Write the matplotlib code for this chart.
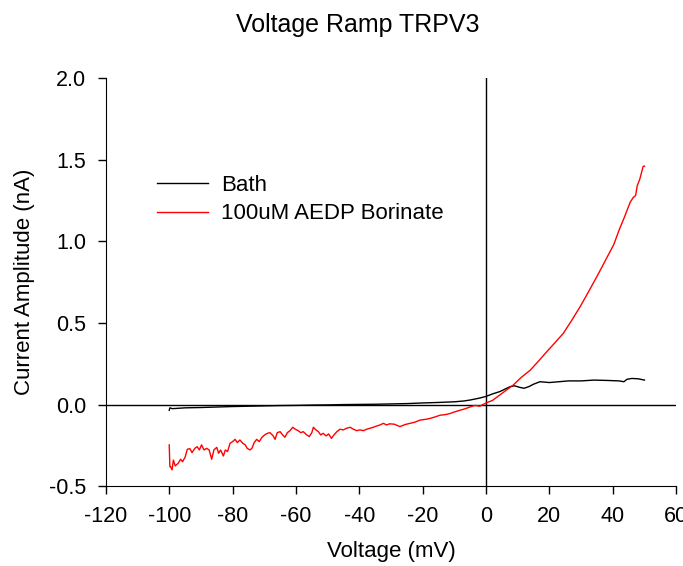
import numpy as np
import matplotlib
matplotlib.use('Agg')
import matplotlib.pyplot as plt

plt.rcParams['font.family'] = ['Liberation Sans', 'DejaVu Sans']
plt.rcParams['axes.unicode_minus'] = False

# Bath trace (mV, nA)
bath_v = [-100.0, -99.8, -99, -95, -90, -85, -80, -75, -70, -65, -60, -55, -50,
          -45, -40, -35, -30, -25, -20, -15, -10, -7, -5, -2, 0, 2, 4.4, 6,
          7.6, 9, 10.7, 12, 13.5, 15, 17, 20, 23, 26, 30, 34, 38, 42, 43.5,
          44.5, 46, 48, 50]
bath_i = [-0.035, -0.02, -0.025, -0.02, -0.018, -0.015, -0.012, -0.01, -0.008,
          -0.006, -0.005, -0.003, -0.002, 0.0, 0.001, 0.002, 0.004, 0.006,
          0.01, 0.013, 0.017, 0.022, 0.028, 0.04, 0.05, 0.065, 0.08, 0.095,
          0.11, 0.115, 0.105, 0.10, 0.11, 0.125, 0.14, 0.135, 0.14, 0.145,
          0.145, 0.15, 0.148, 0.145, 0.14, 0.155, 0.16, 0.158, 0.15]

# 100uM AEDP Borinate trace (mV, nA)
drug_v = [-100.0, -99.8, -99.6, -99.1, -98.7, -98.1, -97.2, -96.4, -95.8, -95.0,
          -94.3, -93.5, -92.8, -91.9, -91.2, -90.5, -89.8, -89.0, -88.2, -87.4,
          -86.6, -85.9, -85.0, -84.4, -83.8, -82.9, -82.3, -81.6, -80.8, -80.0,
          -79.2, -78.5, -77.7, -76.8, -76.0, -75.4, -74.5, -73.9, -73.2, -72.4,
          -71.6, -70.7, -69.9, -69.0, -68.2, -67.2, -66.6, -65.9, -65.0, -64.2,
          -63.5, -62.7, -61.9, -61.0, -60.2, -59.3, -58.5, -57.7, -56.6, -55.8,
          -55.0, -54.5, -53.7, -52.9, -52.2, -51.4, -50.5, -49.7, -48.8, -48.0,
          -47.1, -46.1, -45.1, -44.0, -42.9, -41.9, -40.8, -39.8, -38.7, -37.7,
          -36.6, -35.6, -34.5, -33.5, -32.4, -31.4, -30.5, -29, -27.2, -25.5,
          -24, -22.5, -20.8, -19, -17.7, -16, -14.5, -13, -11.4, -10, -8.2,
          -6.5, -5.1, -3.5, -2, 0, 2, 4.4, 6.5, 8.6, 11, 13.9, 16.5, 19.2,
          21.8, 24.4, 27, 29.7, 32.3, 35, 37.6, 40.3, 42, 43.5, 45.5, 46.5,
          47.2, 47.7, 48.5, 49.6, 50]
drug_i = [-0.247, -0.38, -0.38, -0.40, -0.34, -0.376, -0.36, -0.335, -0.35, -0.323,
          -0.274, -0.27, -0.294, -0.268, -0.258, -0.278, -0.247, -0.278, -0.268, -0.278,
          -0.335, -0.278, -0.262, -0.298, -0.278, -0.315, -0.278, -0.288, -0.237, -0.227,
          -0.213, -0.233, -0.217, -0.237, -0.247, -0.268, -0.278, -0.268, -0.233, -0.213,
          -0.227, -0.20, -0.186, -0.176, -0.172, -0.192, -0.213, -0.172, -0.166, -0.186,
          -0.20, -0.172, -0.16, -0.139, -0.151, -0.16, -0.172, -0.166, -0.186, -0.196,
          -0.172, -0.139, -0.155, -0.166, -0.186, -0.176, -0.192, -0.18, -0.207, -0.186,
          -0.166, -0.151, -0.155, -0.145, -0.139, -0.151, -0.16, -0.155, -0.16, -0.151,
          -0.145, -0.139, -0.131, -0.125, -0.115, -0.125, -0.118, -0.12, -0.135, -0.122,
          -0.115, -0.108, -0.095, -0.09, -0.085, -0.075, -0.065, -0.062, -0.055, -0.045, -0.035,
          -0.025, -0.015, -0.005, -0.01, 0.01, 0.025, 0.06, 0.09, 0.12, 0.165, 0.21, 0.265, 0.325,
          0.38, 0.437, 0.515, 0.60, 0.69, 0.785, 0.88, 0.98, 1.07, 1.14, 1.24, 1.27,
          1.28, 1.34, 1.38, 1.46, 1.46]

x_ticks = [-120, -100, -80, -60, -40, -20, 0, 20, 40, 60]
y_ticks = [-0.5, 0.0, 0.5, 1.0, 1.5, 2.0]

fig = plt.figure(figsize=(6.83, 5.66), dpi=100)
ax = fig.add_axes([0.155, 0.141, 0.835, 0.721])

ax.axhline(0, color='black', lw=1)
ax.axvline(0, color='black', lw=1)
ax.plot(bath_v, bath_i, color='black', lw=1, label='Bath')
ax.plot(drug_v, drug_i, color='red', lw=1, label='100uM AEDP Borinate')

ax.set_xlim(-120, 60)
ax.set_ylim(-0.5, 2.0)
ax.set_xticks(x_ticks)
ax.set_yticks(y_ticks)
ax.set_yticklabels(['%.1f' % t for t in y_ticks])
ax.tick_params(direction='out', length=6, width=1, labelsize=15.5, pad=8)
ax.spines['top'].set_visible(False)
ax.spines['right'].set_visible(False)

ax.set_xlabel('Voltage (mV)', fontsize=16, labelpad=10)
ax.set_ylabel('Current Amplitude (nA)', fontsize=16, labelpad=10)
fig.text(0.524, 1 - 25 / 566, 'Voltage Ramp TRPV3', fontsize=18,
         ha='center', va='center')

ax.legend(loc='upper left', bbox_to_anchor=(0.089, 0.763), frameon=False,
          fontsize=16, handlelength=2.3, handletextpad=0.6, labelspacing=0.34,
          borderpad=0, borderaxespad=0)

fig.savefig('out.png', dpi=100)
